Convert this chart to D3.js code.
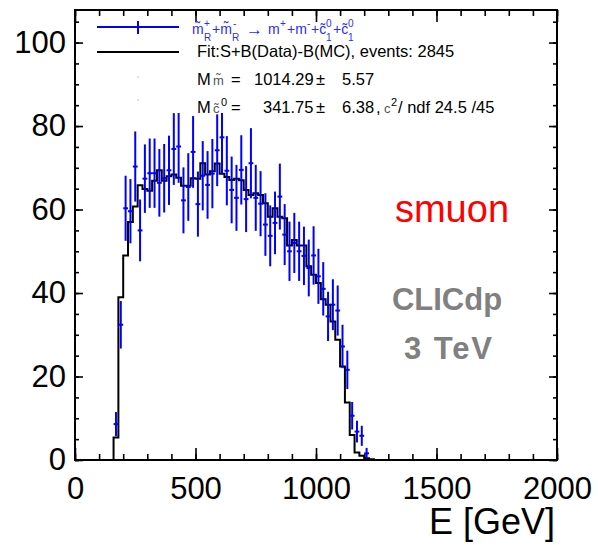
<!DOCTYPE html>
<html lang="en">
<head>
<meta charset="UTF-8">
<title>smuon energy spectrum</title>
<script src="https://d3js.org/d3.v7.min.js"></script>
<style>
    body { margin: 0; background: #fff; }
    text { font-family: "Liberation Sans", Arial, sans-serif; }
    .axis path { display: none; }
    .axis line { stroke: #000; stroke-width: 1.6px; }
    .axis text { font-size: 31px; fill: #000; }
</style>
</head>
<body>
<svg id="chart"></svg>
<script>
// low edges of the 20 GeV bins (GeV)
var binLow = [160, 180, 200, 220, 240, 260, 280, 300, 320, 340,
              360, 380, 400, 420, 440, 460, 480, 500, 520, 540,
              560, 580, 600, 620, 640, 660, 680, 700, 720, 740,
              760, 780, 800, 820, 840, 860, 880, 900, 920, 940,
              960, 980, 1000, 1020, 1040, 1060, 1080, 1100, 1120, 1140,
              1160, 1180, 1200, 1220];
var binWidth = 20;

// data points (blue) and their errors
var dataCounts = [8.6, 32.4, 60.3, 59.6, 70.3, 55.0, 67.4, 68.7, 68.7, 66.4,
                  67.5, 69.4, 74.5, 75.1, 62.2, 65.4, 73.8, 61.3, 68.1, 65.9,
                  68.6, 74.2, 77.3, 69.3, 64.7, 62.8, 69.5, 62.5, 71.1, 62.8,
                  61.4, 56.4, 53.7, 56.8, 63.1, 54.0, 50.0, 52.0, 50.0, 48.9,
                  46.0, 49.0, 44.0, 41.0, 34.4, 37.2, 35.8, 27.2, 21.6, 10.6,
                  6.8, 5.8, 1.6, 0];
var dataErrors = [2.9, 5.7, 7.8, 7.7, 8.4, 7.4, 8.2, 8.3, 8.3, 8.1,
                  8.2, 8.3, 8.6, 8.7, 7.9, 8.1, 8.6, 7.8, 8.3, 8.1,
                  8.3, 8.6, 8.8, 8.3, 8.0, 7.9, 8.3, 7.9, 8.4, 7.9,
                  7.8, 7.5, 7.3, 7.5, 7.9, 7.3, 7.1, 7.2, 7.1, 7.0,
                  6.8, 7.0, 6.6, 6.4, 5.9, 6.1, 6.0, 5.2, 4.6, 3.3,
                  2.6, 2.4, 1.3, 0];

// fit: S+B(Data)-B(MC) (black histogram)
var fitCounts = [5.4, 39.0, 49.0, 57.0, 60.7, 65.8, 64.9, 64.5, 66.9, 69.4,
                 66.9, 68.0, 68.4, 67.6, 65.7, 65.7, 67.5, 67.4, 71.1, 68.4,
                 69.2, 71.0, 68.6, 67.8, 67.1, 67.4, 67.0, 64.7, 63.5, 63.9,
                 63.5, 61.5, 58.3, 60.3, 58.3, 57.9, 51.4, 52.7, 51.4, 51.4,
                 46.4, 44.4, 42.4, 38.5, 37.2, 33.2, 28.8, 22.4, 13.8, 6.0,
                 1.8, 1.0, 0.4, 0.2];

var xTicks = [0, 500, 1000, 1500, 2000];
var yTicks = [0, 20, 40, 60, 80, 100];

var width = 598, height = 545;
var frame = {left: 75, right: 557, top: 10, bottom: 460};

var svg = d3.select("#chart")
    .attr("width", width)
    .attr("height", height);

var x = d3.scaleLinear().domain([0, 2000]).range([frame.left, frame.right]);
var y = d3.scaleLinear().domain([0, 107.8]).range([frame.bottom, frame.top]);

// fit histogram as a step line
var steps = [[binLow[0], 0]];
binLow.forEach(function(lo, i) { steps.push([lo, fitCounts[i]]); });
steps.push([binLow[binLow.length - 1] + binWidth, 0]);
steps.push([binLow[binLow.length - 1] + 2 * binWidth, 0]);

var line = d3.line()
    .curve(d3.curveStepAfter)
    .x(function(d) { return x(d[0]); })
    .y(function(d) { return y(d[1]); });

svg.append("path")
    .attr("d", line(steps))
    .attr("fill", "none")
    .attr("stroke", "#000")
    .attr("stroke-width", 2);

// data points with error bars
var pts = svg.append("g").attr("stroke", "#0000ff").attr("stroke-width", 2);
binLow.forEach(function(lo, i) {
    if (dataCounts[i] <= 0) return;
    var cx = x(lo + binWidth / 2);
    pts.append("line")
        .attr("x1", cx).attr("x2", cx)
        .attr("y1", y(dataCounts[i] - dataErrors[i]))
        .attr("y2", y(dataCounts[i] + dataErrors[i]));
    pts.append("line")
        .attr("x1", x(lo)).attr("x2", x(lo + binWidth))
        .attr("y1", y(dataCounts[i])).attr("y2", y(dataCounts[i]));
});

// legend box (white fill, hides what is under it)
svg.append("rect")
    .attr("x", 78).attr("y", 11).attr("width", 407).attr("height", 102)
    .attr("fill", "#fff");

// minor ticks
svg.append("g").attr("class", "axis")
    .attr("transform", "translate(0," + frame.bottom + ")")
    .call(d3.axisBottom(x).ticks(20).tickSizeInner(-6).tickSizeOuter(0).tickFormat(""));
svg.append("g").attr("class", "axis")
    .attr("transform", "translate(0," + frame.top + ")")
    .call(d3.axisTop(x).ticks(20).tickSizeInner(-6).tickSizeOuter(0).tickFormat(""));
svg.append("g").attr("class", "axis")
    .attr("transform", "translate(" + frame.left + ",0)")
    .call(d3.axisLeft(y).ticks(20).tickSizeInner(-4).tickSizeOuter(0).tickFormat(""));
svg.append("g").attr("class", "axis")
    .attr("transform", "translate(" + frame.right + ",0)")
    .call(d3.axisRight(y).ticks(20).tickSizeInner(-4).tickSizeOuter(0).tickFormat(""));

// major ticks + labels
svg.append("g").attr("class", "axis")
    .attr("transform", "translate(0," + frame.bottom + ")")
    .call(d3.axisBottom(x).tickValues(xTicks).tickFormat(d3.format("d"))
        .tickSizeInner(-12).tickSizeOuter(0).tickPadding(17));
svg.append("g").attr("class", "axis")
    .attr("transform", "translate(0," + frame.top + ")")
    .call(d3.axisTop(x).tickValues(xTicks).tickSizeInner(-12).tickSizeOuter(0).tickFormat(""));
svg.append("g").attr("class", "axis")
    .attr("transform", "translate(" + frame.left + ",0)")
    .call(d3.axisLeft(y).tickValues(yTicks).tickSizeInner(-8).tickSizeOuter(0).tickPadding(9));
svg.append("g").attr("class", "axis")
    .attr("transform", "translate(" + frame.right + ",0)")
    .call(d3.axisRight(y).tickValues(yTicks).tickSizeInner(-8).tickSizeOuter(0).tickFormat(""));

// frame
svg.append("rect")
    .attr("x", frame.left).attr("y", frame.top)
    .attr("width", frame.right - frame.left)
    .attr("height", frame.bottom - frame.top)
    .attr("fill", "none").attr("stroke", "#000").attr("stroke-width", 2);

// axis title
svg.append("text")
    .attr("x", 555).attr("y", 534)
    .attr("text-anchor", "end")
    .style("font-size", "36px")
    .text("E [GeV]");

// legend
var leg = svg.append("g");
leg.append("line").attr("x1", 97).attr("x2", 179).attr("y1", 27).attr("y2", 27)
    .attr("stroke", "#0000ff").attr("stroke-width", 2);
leg.append("line").attr("x1", 138).attr("x2", 138).attr("y1", 21).attr("y2", 34)
    .attr("stroke", "#0000ff").attr("stroke-width", 2);
leg.append("line").attr("x1", 97).attr("x2", 179).attr("y1", 52).attr("y2", 52)
    .attr("stroke", "#000").attr("stroke-width", 2);
leg.append("circle").attr("cx", 138).attr("cy", 77).attr("r", 0.6).attr("fill", "#888");
leg.append("circle").attr("cx", 138).attr("cy", 100).attr("r", 0.6).attr("fill", "#888");

// one text element per legend row, pieces as tspans [string, x, baseline, size, colour]
function row(parts) {
    var t = leg.append("text");
    parts.forEach(function(p) {
        t.append("tspan").attr("x", p[1]).attr("y", p[2])
            .style("font-size", p[3] + "px").attr("fill", p[4]).text(p[0]);
    });
}
var blue = "#2b2bff";
row([["m\u0303", 192, 34, 14, blue], ["+", 204, 27, 10, blue], ["R", 204, 41, 10, blue],
     ["+m\u0303", 212, 34, 14, blue], ["-", 233, 27, 10, blue], ["R", 232, 41, 10, blue],
     ["\u2192", 246, 35, 17, blue],
     ["m", 268, 34, 14, blue], ["+", 280, 27, 10, blue],
     ["+m", 287, 34, 14, blue], ["-", 307, 27, 10, blue],
     ["+c\u0303", 311, 34, 14, blue], ["0", 326, 27, 10, blue], ["1", 326, 41, 10, blue],
     ["+c\u0303", 333, 34, 14, blue], ["0", 348, 27, 10, blue], ["1", 348, 41, 10, blue]]);

row([["Fit:S+B(Data)-B(MC), events: 2845", 197, 57, 16.5, "#000"]]);
row([["M", 197, 85, 16.5, "#000"], ["m\u0303", 213, 85, 13, "#555"], ["=", 231, 85, 16.5, "#000"],
     ["1014.29", 254, 85, 16.5, "#000"], ["\u00b1", 316, 85, 16.5, "#000"], ["5.57", 342, 85, 16.5, "#000"]]);
row([["M", 197, 113, 16.5, "#000"], ["c\u0303", 213, 113, 13, "#555"], ["0", 221, 106, 11, "#000"],
     ["=", 231, 113, 16.5, "#000"], ["341.75", 263, 113, 16.5, "#000"], ["\u00b1", 316, 113, 16.5, "#000"],
     ["6.38", 342, 113, 16.5, "#000"], [",", 376, 113, 16.5, "#000"], ["c", 384, 113, 13, "#555"],
     ["2", 391, 106, 11, "#000"], ["/ ndf 24.5 /45", 398, 113, 16.5, "#000"]]);

// annotations
svg.append("text").attr("x", 452).attr("y", 222).attr("text-anchor", "middle")
    .style("font-size", "38px").attr("fill", "#ff0000").text("smuon");
svg.append("text").attr("x", 447).attr("y", 310).attr("text-anchor", "middle")
    .style("font-size", "31px").style("font-weight", "bold").attr("fill", "#808080").text("CLICdp");
svg.append("text").attr("x", 448).attr("y", 359).attr("text-anchor", "middle")
    .attr("textLength", 88).attr("lengthAdjust", "spacing")
    .style("font-size", "31px").style("font-weight", "bold").attr("fill", "#808080").text("3 TeV");
</script>
</body>
</html>
